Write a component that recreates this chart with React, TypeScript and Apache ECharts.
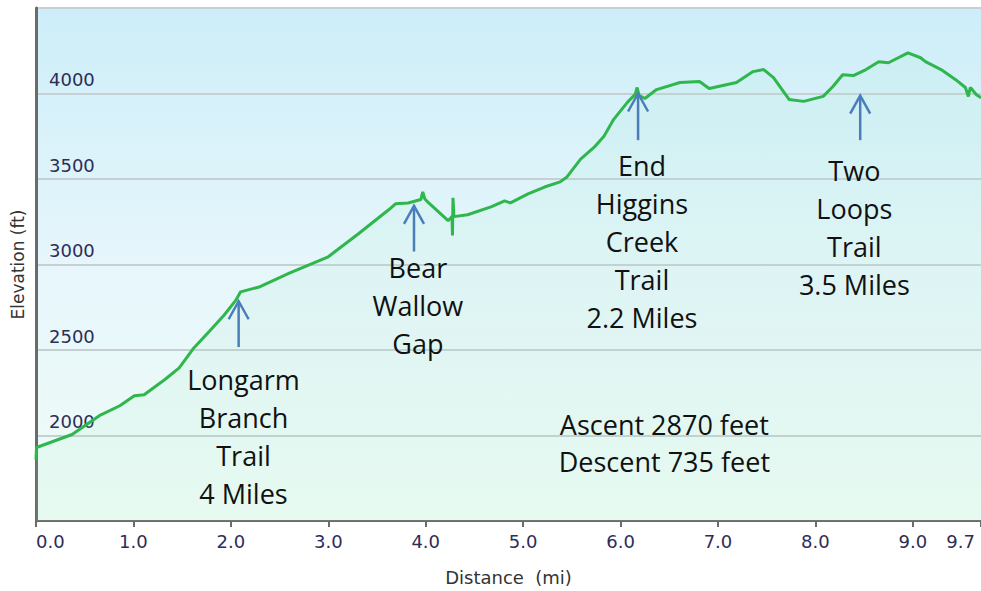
import React, { useEffect, useRef } from 'react';
import * as echarts from 'echarts';

// Distance along the trail (miles)
const distanceMi = [
  0, 0.005, 0.37, 0.65, 0.86, 1.01, 1.11, 1.32, 1.47, 1.62, 1.78, 1.93, 2.05, 2.1, 2.3, 2.6, 3.0,
  3.31, 3.62, 3.69, 3.82, 3.95, 3.97, 3.99, 4.02, 4.23, 4.27, 4.275, 4.28, 4.29, 4.43, 4.67, 4.81,
  4.87, 5.05, 5.22, 5.38, 5.45, 5.59, 5.73, 5.83, 5.93, 6.07, 6.15, 6.17, 6.19, 6.25, 6.37, 6.61,
  6.81, 6.91, 7.19, 7.36, 7.47, 7.57, 7.73, 7.88, 8.08, 8.18, 8.28, 8.39, 8.52, 8.65, 8.75, 8.95,
  9.08, 9.13, 9.29, 9.44, 9.54, 9.57, 9.59, 9.61, 9.65, 9.7,
];
// Elevation (feet)
const elevationFt = [
  1860, 1930, 2006, 2116, 2174, 2232, 2238, 2326, 2395, 2512, 2610, 2703, 2790, 2840, 2870, 2950, 3045,
  3180, 3320, 3355, 3360, 3380, 3424, 3385, 3366, 3256, 3280, 3170, 3390, 3280, 3291, 3337, 3372,
  3360, 3413, 3453, 3483, 3512, 3616, 3686, 3750, 3849, 3948, 3995, 4035, 3990, 3971, 4023, 4064,
  4070, 4029, 4064, 4128, 4140, 4093, 3965, 3954, 3983, 4041, 4110, 4105, 4140, 4186, 4180, 4238,
  4209, 4186, 4140, 4081, 4035, 3983, 4035, 4023, 3994, 3975,
];

const xAxisName = 'Distance  (mi)';
const yAxisName = 'Elevation (ft)';

// Annotation texts and anchors in data coordinates (miles, feet)
const annotationLines = [
  ['Longarm', 'Branch', 'Trail', '4 Miles'],
  ['Bear', 'Wallow', 'Gap'],
  ['End', 'Higgins', 'Creek', 'Trail', '2.2 Miles'],
  ['Two', 'Loops', 'Trail', '3.5 Miles'],
];
const annotationTextX = [2.13, 3.92, 6.22, 8.4];
const annotationTextY = [2326, 2983, 3581, 3547];
const arrowX = [2.08, 3.88, 6.18, 8.46];
const arrowTipY = [2785, 3343, 4000, 3988];
const arrowTailY = [2517, 3076, 3727, 3727];

const statsLines = ['Ascent 2870 feet', 'Descent 735 feet'];
const statsX = 6.45;
const statsY = 2064;

export default function App() {
  const ref = useRef<HTMLDivElement>(null);

  useEffect(() => {
    if (!ref.current) return;
    const chart = echarts.init(ref.current, undefined, { renderer: 'svg' });
    const data = distanceMi.map((d, i) => [d, elevationFt[i]]);
    const labelFont = 'DejaVu Sans';
    const xMax = 9.7;

    chart.setOption({
      animation: false,
      backgroundColor: '#ffffff',
      grid: {
        left: 36,
        right: -5,
        top: 8,
        bottom: 67,
        show: true,
        borderWidth: 0,
        backgroundColor: new echarts.graphic.LinearGradient(0, 0, 0, 1, [
          { offset: 0, color: '#cdeef9' },
          { offset: 0.5, color: '#e6f6fb' },
          { offset: 1, color: '#effcf6' },
        ]),
      },
      xAxis: {
        type: 'value',
        min: 0,
        max: xMax,
        interval: 1,
        name: xAxisName,
        nameLocation: 'middle',
        nameGap: 47,
        nameTextStyle: { fontFamily: labelFont, fontSize: 18, color: '#333' },
        axisLine: { show: true, lineStyle: { color: '#6b6b6b', width: 2 } },
        axisTick: { show: true, length: 6, lineStyle: { color: '#6b6b6b', width: 2 } },
        splitLine: { show: false },
        axisLabel: {
          fontFamily: labelFont,
          fontSize: 18,
          color: '#2d2d58',
          margin: 11,
          alignMinLabel: 'left',
          alignMaxLabel: 'right',
          formatter: (v: number) => (v >= xMax ? '{r|' + v.toFixed(1) + '}' : v.toFixed(1)),
          rich: {
            r: { fontFamily: labelFont, fontSize: 18, color: '#2d2d58', padding: [0, 6, 0, 0] },
          },
        },
      },
      yAxis: {
        type: 'value',
        min: 1500,
        max: 4500,
        interval: 500,
        name: yAxisName,
        nameLocation: 'middle',
        nameGap: 10,
        nameTextStyle: { fontFamily: labelFont, fontSize: 17, color: '#333' },
        axisLine: { show: true, lineStyle: { color: '#6b6b6b', width: 3 } },
        axisTick: { show: false },
        splitLine: { show: true, lineStyle: { color: '#c6d0d4', width: 2 } },
        axisLabel: {
          inside: true,
          margin: 13,
          showMinLabel: false,
          showMaxLabel: false,
          fontFamily: labelFont,
          fontSize: 18,
          color: '#2d2d58',
          verticalAlign: 'bottom',
          padding: [0, 0, 5, 0],
          formatter: (v: number) => String(v),
        },
      },
      series: [
        {
          type: 'line',
          data,
          symbol: 'none',
          smooth: false,
          lineStyle: { color: '#2fb64c', width: 3 },
          areaStyle: { color: 'rgba(150, 235, 190, 0.14)' },
          z: 3,
        },
      ],
    });

    const font = '27px "Open Sans"';
    const arrowColor = '#4a7ebb';
    const graphic: any[] = [];
    annotationLines.forEach((lines, i) => {
      const t = chart.convertToPixel({ gridIndex: 0 }, [annotationTextX[i], annotationTextY[i]]) as number[];
      graphic.push({
        type: 'text',
        x: t[0],
        y: t[1] - 19,
        z: 10,
        style: { text: lines.join('\n'), font, fill: '#111', align: 'center', verticalAlign: 'top', lineHeight: 38 },
      });
      const tip = chart.convertToPixel({ gridIndex: 0 }, [arrowX[i], arrowTipY[i]]) as number[];
      const tail = chart.convertToPixel({ gridIndex: 0 }, [arrowX[i], arrowTailY[i]]) as number[];
      graphic.push({
        type: 'polyline',
        z: 10,
        shape: { points: [[tail[0], tail[1]], [tip[0], tip[1]]] },
        style: { stroke: arrowColor, lineWidth: 2.5, fill: null },
      });
      graphic.push({
        type: 'polyline',
        z: 10,
        shape: { points: [[tip[0] - 10, tip[1] + 18], [tip[0], tip[1]], [tip[0] + 10, tip[1] + 18]] },
        style: { stroke: arrowColor, lineWidth: 2.5, fill: null },
      });
    });
    const s = chart.convertToPixel({ gridIndex: 0 }, [statsX, statsY]) as number[];
    graphic.push({
      type: 'text',
      x: s[0],
      y: s[1] - 19,
      z: 10,
      style: { text: statsLines.join('\n'), font, fill: '#111', align: 'center', verticalAlign: 'top', lineHeight: 37 },
    });
    chart.setOption({ graphic });

    return () => chart.dispose();
  }, []);

  return <div ref={ref} style={{ position: 'absolute', left: 0, top: 0, width: 981, height: 591 }} />;
}
